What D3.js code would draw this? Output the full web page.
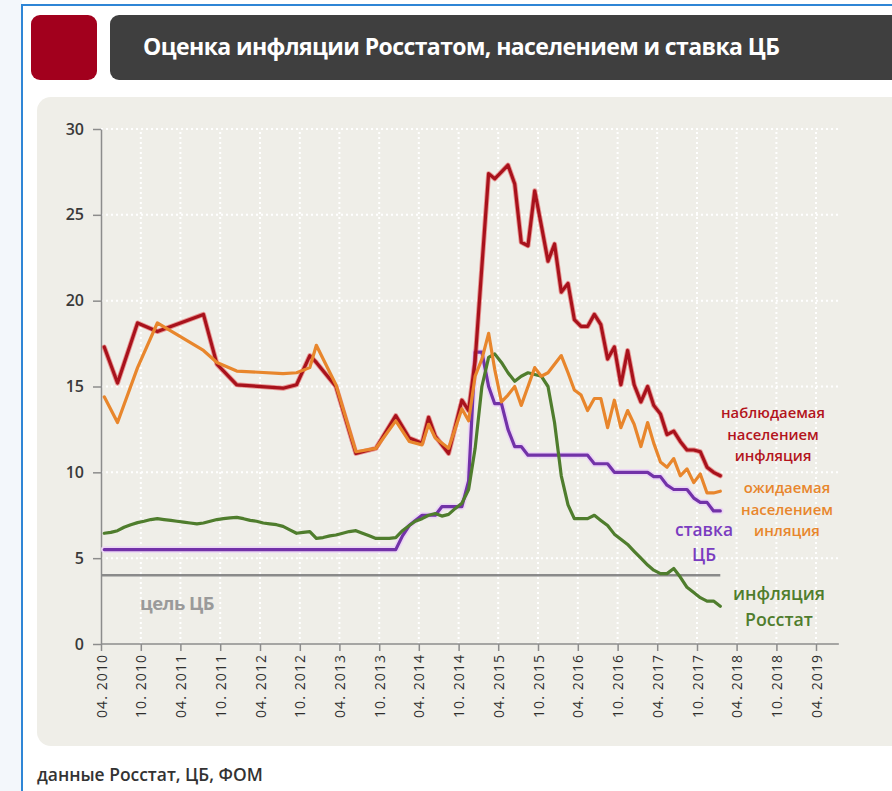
<!DOCTYPE html>
<html>
<head>
<meta charset="utf-8">
<script src="https://cdn.jsdelivr.net/npm/d3@7"></script>
<style>
  html, body { margin: 0; padding: 0; background: #ffffff; }
  svg { display: block; font-family: "Open Sans", "Noto Sans", sans-serif; }
</style>
</head>
<body>
<svg id="chart" width="892" height="791"></svg>
<script>
// ---- Texts ----
const titleText = "Оценка инфляции Росстатом, населением и ставка ЦБ";
const sourceText = "данные Росстат, ЦБ, ФОМ";
const targetLabel = "цель ЦБ";

// ---- Axes ----
const tickLabels = ["04. 2010", "10. 2010", "04. 2011", "10. 2011", "04. 2012", "10. 2012",
  "04. 2013", "10. 2013", "04. 2014", "10. 2014", "04. 2015", "10. 2015", "04. 2016",
  "10. 2016", "04. 2017", "10. 2017", "04. 2018", "10. 2018", "04. 2019"];
const yTicks = [0, 5, 10, 15, 20, 25, 30];

// ---- Monthly series, April 2010 .. January 2018 ----
const monthlyStart = "2010-04";
const cpiRosstat = [
  6.45, 6.5, 6.6, 6.8, 6.95, 7.07, 7.15, 7.25, 7.3, 7.25, 7.2, 7.15,
  7.1, 7.05, 7.0, 7.05, 7.15, 7.25, 7.3, 7.35, 7.38, 7.3, 7.2, 7.15,
  7.05, 7.0, 6.95, 6.85, 6.65, 6.45, 6.5, 6.55, 6.15, 6.2, 6.3, 6.35,
  6.45, 6.55, 6.6, 6.45, 6.3, 6.15, 6.15, 6.15, 6.2, 6.6, 6.9, 7.15,
  7.3, 7.5, 7.6, 7.45, 7.55, 7.9, 8.2, 9.0, 11.4, 15.0, 16.7, 16.9,
  16.4, 15.8, 15.3, 15.6, 15.8, 15.7, 15.6, 15.0, 12.9, 9.8, 8.1, 7.3,
  7.3, 7.3, 7.5, 7.2, 6.9, 6.4, 6.1, 5.8, 5.4, 5.0, 4.6, 4.3,
  4.1, 4.1, 4.4, 3.9, 3.3, 3.0, 2.7, 2.5, 2.5, 2.2
];
const keyRate = [
  5.5, 5.5, 5.5, 5.5, 5.5, 5.5, 5.5, 5.5, 5.5, 5.5, 5.5, 5.5,
  5.5, 5.5, 5.5, 5.5, 5.5, 5.5, 5.5, 5.5, 5.5, 5.5, 5.5, 5.5,
  5.5, 5.5, 5.5, 5.5, 5.5, 5.5, 5.5, 5.5, 5.5, 5.5, 5.5, 5.5,
  5.5, 5.5, 5.5, 5.5, 5.5, 5.5, 5.5, 5.5, 5.5, 6.3, 6.9, 7.2,
  7.5, 7.5, 7.5, 8.0, 8.0, 8.0, 8.0, 9.5, 17.0, 17.0, 15.0, 14.0,
  14.0, 12.5, 11.5, 11.5, 11.0, 11.0, 11.0, 11.0, 11.0, 11.0, 11.0, 11.0,
  11.0, 11.0, 10.5, 10.5, 10.5, 10.0, 10.0, 10.0, 10.0, 10.0, 10.0, 9.75,
  9.75, 9.25, 9.0, 9.0, 9.0, 8.5, 8.25, 8.25, 7.75, 7.75
];

// ---- Survey series (month, %) ----
const observedInflation = [
  ["2010-04", 17.3], ["2010-06", 15.2], ["2010-09", 18.7], ["2010-12", 18.2],
  ["2011-07", 19.2], ["2011-09", 16.3], ["2011-12", 15.1], ["2012-07", 14.9],
  ["2012-09", 15.1], ["2012-11", 16.8], ["2012-12", 16.4], ["2013-03", 15.0],
  ["2013-06", 11.1], ["2013-09", 11.4], ["2013-12", 13.3], ["2014-02", 12.0],
  ["2014-04", 11.7], ["2014-05", 13.2], ["2014-06", 12.1], ["2014-08", 11.1],
  ["2014-10", 14.2], ["2014-11", 13.6], ["2014-12", 16.5], ["2015-01", 22.0],
  ["2015-02", 27.4], ["2015-03", 27.1], ["2015-04", 27.5], ["2015-05", 27.9],
  ["2015-06", 26.8], ["2015-07", 23.4], ["2015-08", 23.2], ["2015-09", 26.4],
  ["2015-10", 24.4], ["2015-11", 22.3], ["2015-12", 23.3], ["2016-01", 20.5],
  ["2016-02", 21.0], ["2016-03", 18.9], ["2016-04", 18.5], ["2016-05", 18.5],
  ["2016-06", 19.2], ["2016-07", 18.6], ["2016-08", 16.6], ["2016-09", 17.3],
  ["2016-10", 15.1], ["2016-11", 17.1], ["2016-12", 15.1], ["2017-01", 14.1],
  ["2017-02", 15.0], ["2017-03", 13.9], ["2017-04", 13.4], ["2017-05", 12.2],
  ["2017-06", 12.4], ["2017-07", 11.8], ["2017-08", 11.3], ["2017-09", 11.3],
  ["2017-10", 11.2], ["2017-11", 10.3], ["2017-12", 10.0], ["2018-01", 9.8]
];
const expectedInflation = [
  ["2010-04", 14.4], ["2010-06", 12.9], ["2010-09", 16.1], ["2010-12", 18.7],
  ["2011-07", 17.1], ["2011-09", 16.4], ["2011-12", 15.9], ["2012-07", 15.75],
  ["2012-09", 15.8], ["2012-11", 16.1], ["2012-12", 17.4], ["2013-03", 15.1],
  ["2013-06", 11.2], ["2013-09", 11.4], ["2013-12", 13.0], ["2014-02", 11.8],
  ["2014-04", 11.6], ["2014-05", 12.8], ["2014-06", 12.0], ["2014-08", 11.4],
  ["2014-10", 13.7], ["2014-11", 13.0], ["2014-12", 15.6], ["2015-01", 16.6],
  ["2015-02", 18.1], ["2015-03", 16.0], ["2015-04", 14.1], ["2015-05", 14.5],
  ["2015-06", 15.0], ["2015-07", 13.9], ["2015-08", 15.0], ["2015-09", 16.1],
  ["2015-10", 15.6], ["2015-11", 15.8], ["2015-12", 16.3], ["2016-01", 16.8],
  ["2016-02", 15.8], ["2016-03", 14.8], ["2016-04", 14.5], ["2016-05", 13.6],
  ["2016-06", 14.3], ["2016-07", 14.3], ["2016-08", 12.6], ["2016-09", 14.2],
  ["2016-10", 12.6], ["2016-11", 13.6], ["2016-12", 12.8], ["2017-01", 11.5],
  ["2017-02", 12.9], ["2017-03", 11.7], ["2017-04", 10.6], ["2017-05", 10.3],
  ["2017-06", 10.8], ["2017-07", 9.8], ["2017-08", 10.2], ["2017-09", 9.4],
  ["2017-10", 9.9], ["2017-11", 8.8], ["2017-12", 8.8], ["2018-01", 8.9]
];
const targetRate = 4;

// ---- Series labels ----
const labelObserved = ["наблюдаемая", "населением", "инфляция"];
const labelExpected = ["ожидаемая", "населением", "инляция"];
const labelRate = ["ставка", "ЦБ"];
const labelCpi = ["инфляция", "Росстат"];

// ================= drawing =================
const W = 892, H = 791;
const svg = d3.select("#chart");

// page frame
svg.append("rect").attr("x", 0).attr("y", 0).attr("width", 22).attr("height", H).attr("fill", "#f3f7fb");
svg.append("line").attr("x1", 22).attr("x2", 22).attr("y1", 4).attr("y2", H)
  .attr("stroke", "#2f86d6").attr("stroke-width", 2);
svg.append("line").attr("x1", 22).attr("x2", W).attr("y1", 5).attr("y2", 5)
  .attr("stroke", "#2f86d6").attr("stroke-width", 2);

// header
svg.append("rect").attr("x", 31).attr("y", 15).attr("width", 66).attr("height", 65).attr("rx", 9)
  .attr("fill", "#a2001d");
svg.append("rect").attr("x", 110).attr("y", 15).attr("width", 800).attr("height", 65).attr("rx", 9)
  .attr("fill", "#3f3f3f");

// scale a text's font size so that it spans the given width
function fitFont(sel, target) {
  const w = sel.node().getComputedTextLength();
  const fs = parseFloat(sel.attr("font-size"));
  const nf = fs * target / w;
  sel.attr("font-size", nf.toFixed(2));
  return nf;
}
const title = svg.append("text").attr("x", 143).attr("y", 55)
  .attr("font-size", 20).attr("font-weight", 700).attr("fill", "#ffffff")
  .attr("letter-spacing", -0.6).text(titleText);
fitFont(title, 632);

// chart panel
svg.append("rect").attr("x", 37).attr("y", 97).attr("width", 900).attr("height", 649).attr("rx", 14)
  .attr("fill", "#efeee8");

// source
const src = svg.append("text").attr("x", 37).attr("y", 781)
  .attr("font-size", 14).attr("font-weight", 600).attr("fill", "#333333").text(sourceText);
fitFont(src, 226);

// scales
const parseMonth = d3.timeParse("%Y-%m");
const parseTick = d3.timeParse("%m. %Y");
const tickDates = tickLabels.map(parseTick);
const x = d3.scaleTime().domain([tickDates[0], tickDates[tickDates.length - 1]]).range([101, 816]);
const y = d3.scaleLinear().domain([0, 30]).range([644, 129]);
const xEnd = x(d3.timeDay.offset(d3.timeMonth.offset(tickDates[tickDates.length - 1], 3), 14));
const midMonth = d => d3.timeDay.offset(d, 15);

// gridlines
const grid = svg.append("g").attr("stroke", "#ffffff").attr("stroke-width", 2).attr("stroke-dasharray", "2,3");
grid.selectAll(".h").data(yTicks.filter(v => v > 0)).join("line")
  .attr("x1", x.range()[0]).attr("x2", xEnd).attr("y1", d => y(d)).attr("y2", d => y(d));
grid.selectAll(".v").data(tickDates.slice(1)).join("line")
  .attr("x1", d => x(d)).attr("x2", d => x(d)).attr("y1", y(0)).attr("y2", y(30));

// y axis
const yAxis = svg.append("g").attr("transform", `translate(${x.range()[0]},0)`)
  .call(d3.axisLeft(y).tickValues(yTicks).tickSize(8).tickSizeOuter(0).tickPadding(9).tickFormat(d3.format("d")));
yAxis.select(".domain").attr("stroke", "#8c8c8c").attr("stroke-width", 1.5);
yAxis.selectAll(".tick line").attr("stroke", "#8c8c8c").attr("stroke-width", 1.5);
yAxis.selectAll(".tick text").attr("font-size", 16).attr("font-weight", 600).attr("fill", "#3a3a3a")
  .attr("font-family", "'Open Sans', sans-serif");

// x axis
const xAxis = svg.append("g").attr("transform", `translate(0,${y(0)})`)
  .call(d3.axisBottom(x).tickValues(tickDates).tickSize(7).tickSizeOuter(0).tickFormat((d, i) => tickLabels[i]));
xAxis.select(".domain").remove();
xAxis.append("line").attr("x1", x.range()[0]).attr("x2", xEnd).attr("y1", 0).attr("y2", 0)
  .attr("stroke", "#8c8c8c").attr("stroke-width", 1.5);
xAxis.selectAll(".tick line").attr("stroke", "#8c8c8c").attr("stroke-width", 1.5);
xAxis.selectAll(".tick text")
  .attr("transform", "rotate(-90)").attr("text-anchor", "end")
  .attr("x", -11).attr("y", 0).attr("dy", "0.36em")
  .attr("font-size", 14).attr("font-weight", 500).attr("fill", "#2e2e2e")
  .attr("font-family", "'Open Sans', sans-serif")
  .attr("textLength", 63).attr("lengthAdjust", "spacing");

// series data
const monthly = vals => vals.map((v, i) => ({ date: d3.timeMonth.offset(parseMonth(monthlyStart), i), value: v }));
const survey = arr => arr.map(([m, v]) => ({ date: parseMonth(m), value: v }));
const cpiData = monthly(cpiRosstat);
const rateData = monthly(keyRate);
const obsData = survey(observedInflation);
const expData = survey(expectedInflation);

const line = d3.line().x(d => x(midMonth(d.date))).y(d => y(d.value));

// inflation target
const lastDate = cpiData[cpiData.length - 1].date;
svg.append("line")
  .attr("x1", x.range()[0]).attr("x2", x(midMonth(lastDate)))
  .attr("y1", y(targetRate)).attr("y2", y(targetRate))
  .attr("stroke", "#8a8a8a").attr("stroke-width", 2.5);

const lines = svg.append("g").attr("fill", "none").attr("stroke-linejoin", "round").attr("stroke-linecap", "round");
// central bank rate with a soft halo
lines.append("path").datum(rateData).attr("d", line).attr("stroke", "#ecd6f4").attr("stroke-width", 6.5);
lines.append("path").datum(rateData).attr("d", line).attr("stroke", "#7232a8").attr("stroke-width", 3.2);
// Rosstat inflation
lines.append("path").datum(cpiData).attr("d", line).attr("stroke", "#4f7d2d").attr("stroke-width", 3.2);
// observed by population
lines.append("path").datum(obsData).attr("d", line).attr("stroke", "#e0393a").attr("stroke-width", 5).attr("stroke-opacity", 0.5);
lines.append("path").datum(obsData).attr("d", line).attr("stroke", "#a8121c").attr("stroke-width", 3.2);
// expected by population
lines.append("path").datum(expData).attr("d", line).attr("stroke", "#e8862c").attr("stroke-width", 3.2);

// labels: one font size per block, fitted to the widest line
function block(lines, cx, cy0, step, color, widest) {
  const g = svg.append("g").attr("font-weight", 600).attr("fill", color).attr("text-anchor", "middle");
  const texts = lines.map((t, i) => g.append("text").attr("x", cx).attr("y", cy0 + i * step)
    .attr("dominant-baseline", "central").attr("font-size", 14).text(t));
  const widestIdx = d3.maxIndex(texts, s => s.node().getComputedTextLength());
  const fs = fitFont(texts[widestIdx], widest);
  texts.forEach(s => s.attr("font-size", fs.toFixed(2)));
}
block(labelObserved, 773, 412, 21.5, "#b3141c", 104);
block(labelExpected, 787, 487, 21.7, "#e8862c", 92);
block(labelRate, 704, 529, 25, "#7a3cc0", 58);
block(labelCpi, 779, 593, 26, "#4f7d2d", 92);

const tl = svg.append("text").attr("x", 140).attr("y", 602).attr("dominant-baseline", "central")
  .attr("font-size", 14).attr("font-weight", 700).attr("fill", "#9a9a9a").attr("letter-spacing", -0.5)
  .text(targetLabel);
fitFont(tl, 73);
</script>
</body>
</html>
